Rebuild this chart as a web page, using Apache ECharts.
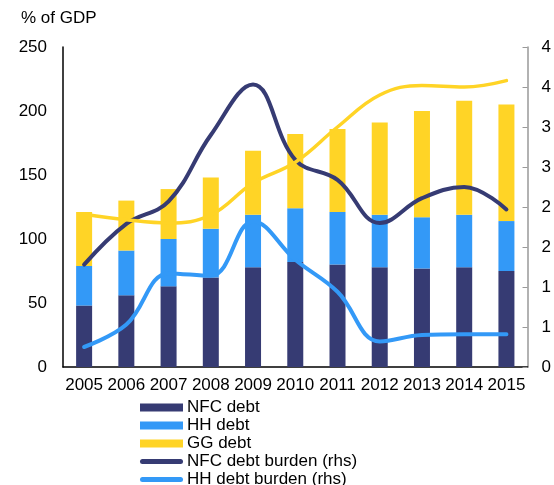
<!DOCTYPE html>
<html>
<head>
<meta charset="utf-8">
<script src="https://cdn.jsdelivr.net/npm/echarts@6/dist/echarts.min.js"></script>
<style>
  html, body { margin: 0; padding: 0; background: #fff; }
  #chart-container { width: 554px; height: 485px; }
</style>
</head>
<body>
<div id="chart-container"></div>
<script>
// categories
const years = ["2005", "2006", "2007", "2008", "2009", "2010", "2011", "2012", "2013", "2014", "2015"];

// stacked bars, % of GDP (lhs)
const nfcDebt = [48, 56, 63, 70, 78, 82, 80, 78, 77, 78, 75];
const hhDebt  = [31, 35, 37, 38, 41, 42, 41, 41, 40, 41, 39];
const ggDebt  = [42, 39, 39, 40, 50, 58, 65, 72, 83, 89, 91];

// debt burden lines (rhs)
const nfcBurden = [12.8, 17.9, 20.7, 29.0, 35.3, 25.9, 23.4, 18.0, 21.1, 22.5, 19.7];
const hhBurden  = [2.5, 5.3, 11.7, 11.4, 18.2, 13.4, 9.4, 3.2, 4.0, 4.1, 4.1];
const ggBurden  = [19.1, 18.4, 18.0, 19.0, 23.0, 25.6, 30.0, 34.0, 35.2, 35.0, 35.8];

// right axis tick labels as they show (cut off at the edge of the picture)
const rhsLabels = ["0", "1", "1", "2", "2", "3", "3", "4", "4"];

const NAVY = "#363b73";
const BLUE = "#3399f7";
const YELLOW = "#ffd426";

// rounded thick stroke used as legend key for the lines
const lineIcon = "path://M2.5,0 L40.5,0 A2.5,2.5 0 0 1 40.5,5 L2.5,5 A2.5,2.5 0 0 1 2.5,0 Z";

const chart = echarts.init(document.getElementById("chart-container"));

const option = {
  backgroundColor: "#fff",
  animation: false,
  textStyle: { fontFamily: "Liberation Sans, Arial, sans-serif" },
  title: {
    text: "% of GDP",
    left: 21,
    top: 10,
    padding: 0,
    textStyle: { fontSize: 17, fontWeight: "normal", color: "#000" },
  },
  legend: {
    orient: "vertical",
    left: 140,
    top: 399,
    height: 300,
    padding: 0,
    itemWidth: 43,
    itemHeight: 8,
    itemGap: 1,
    symbolKeepAspect: true,
    textStyle: { fontSize: 17, color: "#000", padding: [0, 0, 0, -1] },
    data: [
      { name: "NFC debt", icon: "rect" },
      { name: "HH debt", icon: "rect" },
      { name: "GG debt", icon: "rect" },
      { name: "NFC debt burden (rhs)", icon: lineIcon },
      { name: "HH debt burden (rhs)", icon: lineIcon },
      { name: "GG debt burden (rhs)", icon: lineIcon },
    ],
  },
  grid: { left: 63, right: 23, top: 47, bottom: 118 },
  xAxis: {
    type: "category",
    data: years,
    axisLine: { lineStyle: { color: "#000", width: 1.5 } },
    axisTick: { show: false },
    axisLabel: { color: "#000", fontSize: 17, margin: 10, interval: 0, hideOverlap: false },
  },
  yAxis: [
    {
      type: "value",
      min: 0,
      max: 250,
      interval: 50,
      axisLine: { show: true, lineStyle: { color: "#000", width: 1.5 } },
      axisTick: { show: false },
      splitLine: { show: false },
      axisLabel: { color: "#000", fontSize: 17, margin: 16 },
    },
    {
      type: "value",
      min: 0,
      max: 40,
      interval: 5,
      position: "right",
      axisLine: { show: true, lineStyle: { color: "#999", width: 1.5 } },
      axisTick: { show: true, inside: true, length: 5, lineStyle: { color: "#999" } },
      splitLine: { show: false },
      axisLabel: {
        color: "#000",
        fontSize: 17,
        margin: 14,
        formatter: (v) => rhsLabels[Math.round(v / 5)],
      },
    },
  ],
  series: [
    { name: "NFC debt", type: "bar", stack: "debt", data: nfcDebt, barWidth: 16, itemStyle: { color: NAVY } },
    { name: "HH debt", type: "bar", stack: "debt", data: hhDebt, barWidth: 16, itemStyle: { color: BLUE } },
    { name: "GG debt", type: "bar", stack: "debt", data: ggDebt, barWidth: 16, itemStyle: { color: YELLOW } },
    {
      name: "NFC debt burden (rhs)", type: "line", yAxisIndex: 1, data: nfcBurden,
      smooth: 0.4, symbol: "none", lineStyle: { color: NAVY, width: 4, cap: "round" }, itemStyle: { color: NAVY },
    },
    {
      name: "HH debt burden (rhs)", type: "line", yAxisIndex: 1, data: hhBurden,
      smooth: 0.4, symbol: "none", lineStyle: { color: BLUE, width: 4, cap: "round" }, itemStyle: { color: BLUE },
    },
    {
      name: "GG debt burden (rhs)", type: "line", yAxisIndex: 1, data: ggBurden,
      smooth: 0.4, symbol: "none", lineStyle: { color: YELLOW, width: 3.5, cap: "round" }, itemStyle: { color: YELLOW },
    },
  ],
};

chart.setOption(option);
</script>
</body>
</html>
